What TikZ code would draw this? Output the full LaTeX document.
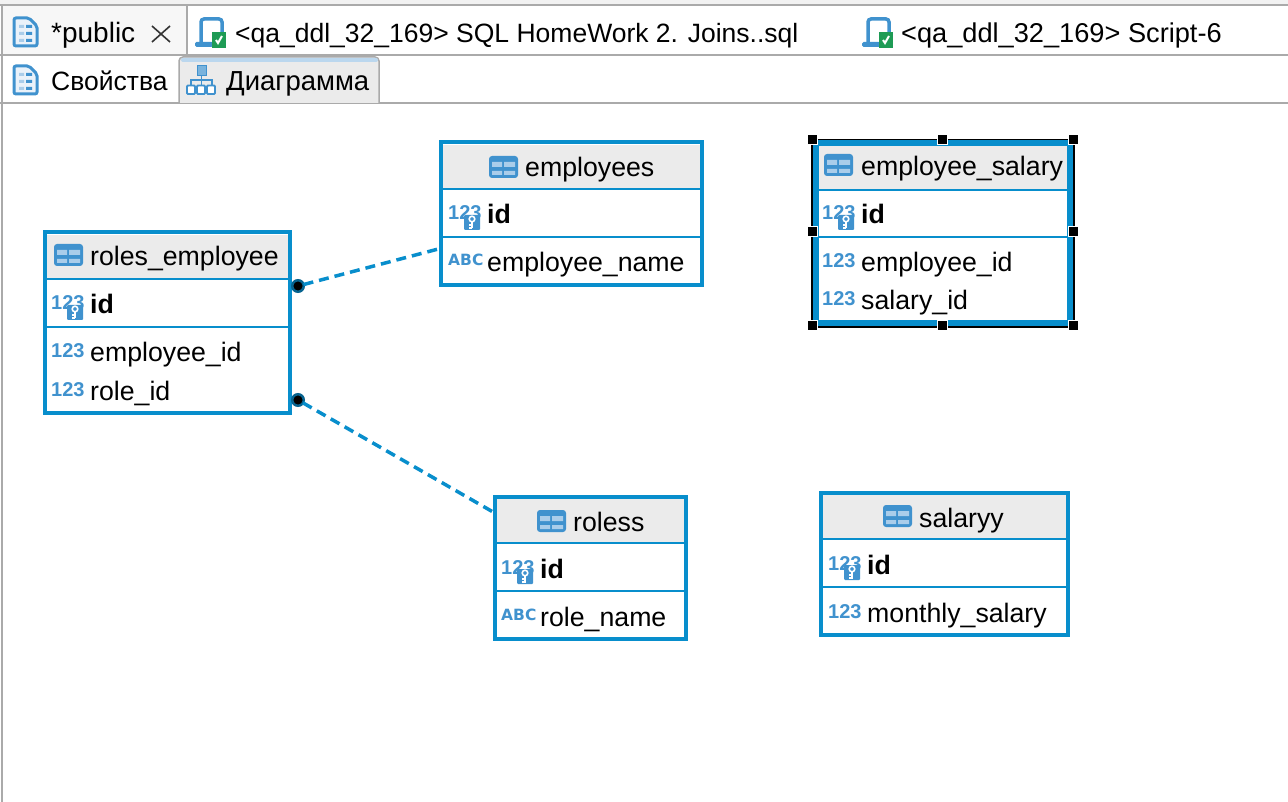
\documentclass[tikz,border=0pt]{standalone}
\usepackage{fontspec}
\setmainfont{Liberation Sans}
\newfontfamily\abcfont{DejaVu Sans}
\usetikzlibrary{positioning}
\definecolor{frameblue}{RGB}{8,142,204}
\definecolor{iconblue}{RGB}{64,146,206}
\definecolor{iconpale}{RGB}{170,205,234}
\definecolor{headgrey}{RGB}{235,235,235}
\definecolor{barline}{RGB}{170,170,170}
\definecolor{okgreen}{RGB}{30,155,85}
\tikzset{
    tblbox/.style={draw=frameblue,line width=4pt,fill=white,inner sep=0pt,outer sep=0pt},
    tblhead/.style={fill=headgrey,inner sep=0pt,outer sep=0pt,minimum height=44pt,anchor=north},
    tblrule/.style={draw=frameblue,line width=2pt},
    tbltext/.style={anchor=base west,inner sep=0pt,font=\fontsize{26.7}{30}\selectfont},
    tblkey/.style={tbltext,font=\fontsize{26.7}{30}\selectfont\bfseries},
    tabtext/.style={anchor=base west,inner sep=0pt,font=\fontsize{26.5}{30}\selectfont},
    reltab/.style={draw=frameblue,line width=3.5pt,dash pattern=on 10pt off 6pt},
    reldot/.style={circle,fill=black,draw=frameblue!70!black,line width=2.5pt,minimum size=11.5pt,inner sep=0pt,outer sep=0pt},
    grip/.style={fill=black,draw=white,line width=1pt,minimum size=10pt,inner sep=0pt,outer sep=0pt},
    tblicon/.pic={
        \fill[iconblue] (0,0) [rounded corners=3pt] rectangle (29,22);
        \fill[iconpale] (3,6) rectangle (13,11) (15,6) rectangle (26,11)
            (3,15) rectangle (13,19) (15,15) rectangle (26,19);
    },
    numicon/.pic={
        \node[anchor=base west,inner sep=0pt,text=iconblue,font=\fontsize{20}{22}\selectfont\bfseries] {123};
    },
    abcicon/.pic={
        \node[anchor=base west,inner sep=0pt,text=iconblue,font=\abcfont\fontsize{15.5}{18}\selectfont\bfseries] {ABC};
    },
    keyicon/.pic={
        \node[anchor=base west,inner sep=0pt,text=iconblue,font=\fontsize{20}{22}\selectfont\bfseries] at (0,0) {123};
        \fill[iconblue,rounded corners=1pt] (16,-5) rectangle (32,10);
        \draw[white,line width=1.6pt] (24,-1) circle (2.8pt);
        \draw[white,line width=1.6pt] (24,2) -- (24,8.5) (24,5) -- (21,5) (24,8) -- (21,8);
    },
    docicon/.pic={
        \draw[iconblue,line width=3pt,rounded corners=2pt,fill=iconpale!25] (1,1) -- (16,1) -- (24,9) -- (24,29) -- (1,29) -- cycle;
        \fill[iconpale] (6,8) rectangle (11,11) (6,15) rectangle (11,18) (6,22) rectangle (11,25);
        \fill[iconblue] (13,8) rectangle (19,11) (13,15) rectangle (19,18) (13,22) rectangle (19,25);
    },
    srvicon/.pic={
        \draw[iconblue,line width=3.5pt,rounded corners=3pt] (6,26) -- (6,2) -- (27,2) -- (27,15);
        \fill[iconblue,rounded corners=1.5pt] (0,25) rectangle (18,30);
        \fill[okgreen] (17,15) rectangle (31,31);
        \draw[white,line width=2pt] (21,23) -- (23,26) -- (27,19);
    },
    treeicon/.pic={
        \draw[iconblue,line width=1.2pt] (16.5,10) -- (16.5,20) (6,20) -- (6,15) -- (27,15) -- (27,20);
        \fill[iconblue!70,draw=iconblue] (12,0) rectangle (21,10);
        \foreach \ix in {2,12,22} {
            \draw[iconblue,line width=1.8pt,fill=white,rounded corners=1pt] (\ix,20.5) rectangle ++(8,8.5);
        }
    }
}
\begin{document}
\begin{tikzpicture}[x=1pt,y=-1pt]
    \useasboundingbox (0,0) rectangle (1288,802);
    \fill[white] (0,0) rectangle (1288,802);
    
    % tab bars
    \fill[black!5] (0,0) rectangle (1288,4);
    \fill[black!3] (2,6) rectangle (186,55);
    \draw[barline,line width=2pt] (0,5) -- (1288,5);
    \draw[barline,line width=2pt] (0,55) -- (1288,55);
    \draw[barline,line width=2pt] (187,5) -- (187,55);
    \draw[barline,line width=2pt] (0,103) -- (1288,103);
    \draw[barline,line width=2pt] (2,5) -- (2,802);
    \draw[barline,line width=1.5pt,fill=headgrey,rounded corners=4pt] (179,103) -- (179,57) -- (379,57) -- (379,103);
    \fill[iconpale!80!white,rounded corners=2pt] (181,58) rectangle (378,62);
    
    \pic at (13,17) {docicon};
    \pic at (13,65) {docicon};
    \pic at (195,17) {srvicon};
    \pic at (862,17) {srvicon};
    \pic at (185,65) {treeicon};
    \node[tabtext,font=\fontsize{28}{30}\selectfont] (tabPublic) at (51,43) {*public};
    \draw[black!80,line width=1.6pt] (152,26) -- (170,42) (170,26) -- (152,42);
    \node[tabtext] (tabJoins) at (235,43) {<qa\_ddl\_32\_169> SQL HomeWork 2. Joins..sql};
    \node[tabtext,font=\fontsize{27.2}{30}\selectfont] (tabScript) at (901,43) {<qa\_ddl\_32\_169> Script-6};
    \node[tabtext] (tabProps) at (51,91) {Свойства};
    \node[tabtext,font=\fontsize{27.5}{30}\selectfont] (tabDiagram) at (226,91) {Диаграмма};
    
    % roles_employee
    \node[tblbox,minimum width=245pt,minimum height=180pt] (rolesEmployee) at (167,322.5) {};
    \node[tblhead,minimum width=241pt] (rolesEmployeeHead) at (167,235) {};
    \draw[tblrule] (rolesEmployeeHead.south west) -- (rolesEmployeeHead.south east);
    \draw[tblrule] (45,327) -- (289,327);
    \pic at (54,244) {tblicon};
    \node[tbltext] (rolesEmployeeName) at (90,266) {roles\_employee};
    \pic at (51,310) {keyicon};
    \node[tblkey] (rolesEmployeeId) at (90,314) {id};
    \pic at (51,358) {numicon};
    \node[tbltext] (rolesEmployeeEmp) at (90,362) {employee\_id};
    \pic at (51,396) {numicon};
    \node[tbltext] (rolesEmployeeRole) at (90,400) {role\_id};
    
    % employees
    \node[tblbox,minimum width=261pt,minimum height=143pt] (employees) at (571,214) {};
    \node[tblhead,minimum width=257pt] (employeesHead) at (571,145) {};
    \draw[tblrule] (employeesHead.south west) -- (employeesHead.south east);
    \draw[tblrule] (441,237) -- (701,237);
    \pic at (489,156) {tblicon};
    \node[tbltext] (employeesName) at (525,177) {employees};
    \pic at (448,220) {keyicon};
    \node[tblkey] (employeesId) at (487,224) {id};
    \pic at (448,266) {abcicon};
    \node[tbltext] (employeesEmp) at (487,272) {employee\_name};
    
    % roless
    \node[tblbox,minimum width=191pt,minimum height=142pt] (roless) at (590,567.5) {};
    \node[tblhead,minimum width=187pt] (rolessHead) at (590,499) {};
    \draw[tblrule] (rolessHead.south west) -- (rolessHead.south east);
    \draw[tblrule] (495,591) -- (685,591);
    \pic at (537,510) {tblicon};
    \node[tbltext] (rolessName) at (573,531) {roless};
    \pic at (501,574) {keyicon};
    \node[tblkey] (rolessId) at (540,578) {id};
    \pic at (501,620) {abcicon};
    \node[tbltext] (rolessRole) at (540,626) {role\_name};
    
    % salaryy
    \node[tblbox,minimum width=247pt,minimum height=142pt] (salaryy) at (944,563.5) {};
    \node[tblhead,minimum width=243pt] (salaryyHead) at (944,495) {};
    \draw[tblrule] (salaryyHead.south west) -- (salaryyHead.south east);
    \draw[tblrule] (821,587) -- (1067,587);
    \pic at (883,505) {tblicon};
    \node[tbltext] (salaryyName) at (919,527) {salaryy};
    \pic at (828,570) {keyicon};
    \node[tblkey] (salaryyId) at (867,574) {id};
    \pic at (828,618) {numicon};
    \node[tbltext] (salaryyMonth) at (867,622) {monthly\_salary};
    
    % employee_salary, selected
    \draw[black,line width=7.5pt] (814.5,142.5) rectangle (1071,324);
    \node[tblbox,line width=6pt,minimum width=254pt,minimum height=180pt] (employeeSalary) at (943,233) {};
    \node[tblhead,minimum width=248pt] (employeeSalaryHead) at (943,146) {};
    \draw[tblrule] (employeeSalaryHead.south west) -- (employeeSalaryHead.south east);
    \draw[tblrule] (819,237) -- (1068,237);
    \pic at (824,154) {tblicon};
    \node[tbltext] (employeeSalaryName) at (861,176) {employee\_salary};
    \pic at (822,220) {keyicon};
    \node[tblkey] (employeeSalaryId) at (861,224) {id};
    \pic at (822,268) {numicon};
    \node[tbltext] (employeeSalaryEmp) at (861,272) {employee\_id};
    \pic at (822,306) {numicon};
    \node[tbltext] (employeeSalarySal) at (861,310) {salary\_id};
    \foreach \gx/\gy in {812/140,942/140,1073/140,812/232,1073/232,812/326,942/326,1073/326} {
        \node[grip] at (\gx,\gy) {};
    }
    
    % relations
    \node[reldot] (dotEmployee) at (298,286) {};
    \node[reldot] (dotRole) at (298,400) {};
    \draw[reltab] (dotEmployee) -- (employees);
    \draw[reltab] (dotRole) -- (roless);
    
\end{tikzpicture}
\end{document}
